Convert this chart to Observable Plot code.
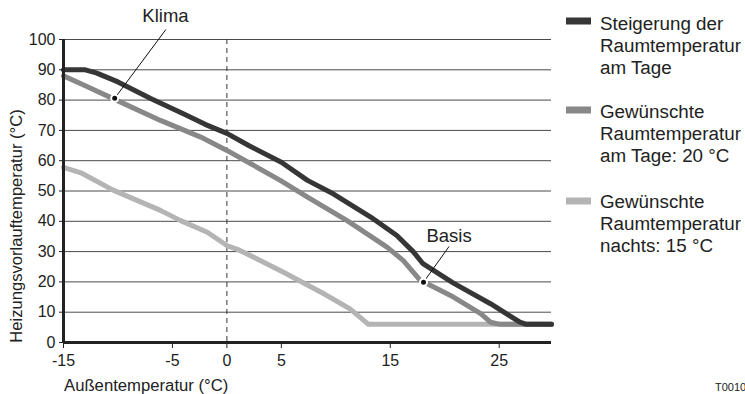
<!DOCTYPE html>
<html><head><meta charset="utf-8">
<script src="https://cdn.jsdelivr.net/npm/d3@7"></script>
<script src="https://cdn.jsdelivr.net/npm/@observablehq/plot@0.6"></script>
<style>
body{margin:0;background:#fff;overflow:hidden}
#chart{position:relative;width:745px;height:394px;overflow:hidden}
</style></head><body><div id="chart"></div>
<script>
// ---- data ----
const legendLines = [
  ["Steigerung der", "Raumtemperatur", "am Tage"],
  ["Gewünschte", "Raumtemperatur", "am Tage: 20 °C"],
  ["Gewünschte", "Raumtemperatur", "nachts: 15 °C"]
];
const seriesColors = ["#363636", "#888888", "#b4b4b4"];

const darkX = [-15, -13, -12, -10, -7, -4, -2, 0, 2, 5, 7.4, 9.8, 13.2, 15.6, 17.1, 18, 20.8, 24.2, 26.9, 27.5, 29.8];
const darkY = [90, 90, 89, 86, 80.5, 75.5, 72, 69, 65, 59.5, 53.5, 49, 41.4, 35.3, 30, 26, 19.6, 12.8, 6.7, 6, 6];

const midX = [-15, -13.4, -10.4, -6.1, -2.4, 0, 2.2, 4.9, 7.4, 11, 14.7, 16.2, 17.75, 18.4, 20.8, 23.3, 24.2, 25.1, 29.8];
const midY = [88, 85.4, 80.4, 73.3, 67.8, 63.4, 59, 53.5, 48, 40.3, 31.5, 27, 20.5, 19.4, 15, 9.5, 6.7, 6, 6];

const lightX = [-15, -13.4, -10.4, -6.1, -4.3, -1.8, 0, 1.2, 3.1, 5.2, 8.9, 11.3, 13, 29.8];
const lightY = [57.8, 56, 50.2, 43.6, 40.3, 36.4, 32, 30.4, 27, 23.2, 16.1, 11.1, 6, 6];

const xTicks = [-15, -5, 0, 5, 15, 25];
const yTicks = [0, 10, 20, 30, 40, 50, 60, 70, 80, 90, 100];

const annotLabels = ["Klima", "Basis"];
const annotPointX = [-10.3, 18.05];
const annotPointY = [80.6, 19.9];
const annotTextX = [-5.64, 20.4];
const annotTextY = [107.6, 35.05];
const annotEndX = [-5.6, 20.4];
const annotEndY = [103.3, 31.7];

const yTitle = "Heizungsvorlauftemperatur (°C)";
const xTitle = "Außentemperatur (°C)";
const codeText = "T001066";

// ---- build ----
const toRows = (xs, ys) => xs.map((x, i) => ({x, y: ys[i]}));
const dark = toRows(darkX, darkY);
const mid = toRows(midX, midY);
const light = toRows(lightX, lightY);
const annots = annotLabels.map((t, i) => ({
  t, px: annotPointX[i], py: annotPointY[i], tx: annotTextX[i], ty: annotTextY[i], ex: annotEndX[i], ey: annotEndY[i]
}));

const font = "'Liberation Sans', Arial, sans-serif";

const plot = Plot.plot({
  width: 745, height: 394,
  marginLeft: 63, marginRight: 194, marginTop: 39, marginBottom: 52,
  x: {domain: [-15, 29.8]},
  y: {domain: [0, 100]},
  style: {fontFamily: font, fontSize: "16px", color: "#222", background: "white", overflow: "visible"},
  marks: [
    Plot.ruleY(yTicks.filter(d => d > 0), {stroke: "#4a4a4a", strokeWidth: 1}),
    Plot.ruleX([0], {stroke: "#333", strokeWidth: 1, strokeDasharray: "5,4"}),
    Plot.line(light, {x: "x", y: "y", stroke: seriesColors[2], strokeWidth: 5, strokeLinejoin: "round"}),
    Plot.line(mid, {x: "x", y: "y", stroke: seriesColors[1], strokeWidth: 5, strokeLinejoin: "round"}),
    Plot.line(dark, {x: "x", y: "y", stroke: seriesColors[0], strokeWidth: 5, strokeLinejoin: "round"}),
    Plot.ruleY([0], {stroke: "#222", strokeWidth: 3}),
    Plot.ruleX([-15], {stroke: "#222", strokeWidth: 3}),
    Plot.axisX({ticks: xTicks, tickSize: 6, tickPadding: 6, tickFormat: d => String(d), label: null, fontSize: 16, stroke: "#222"}),
    Plot.axisY({ticks: yTicks, tickSize: 4, tickPadding: 4, tickFormat: d => String(d), label: null, fontSize: 16, stroke: "#222"}),
    Plot.link(annots, {x1: "px", y1: "py", x2: "ex", y2: "ey", stroke: "#111", strokeWidth: 1}),
    Plot.dot(annots, {x: "px", y: "py", r: 3.5, fill: "#111", stroke: "white", strokeWidth: 2}),
    Plot.text(annots, {x: "tx", y: "ty", text: "t", fontSize: 18.5, fill: "#222"})
  ]
});

document.getElementById("chart").appendChild(plot);

const svg = d3.select(plot);
// axis titles
svg.append("text").attr("transform", "translate(22,226) rotate(-90)")
  .attr("text-anchor", "middle").attr("font-size", 16.6).attr("fill", "#222").attr("font-family", font)
  .text(yTitle);
svg.append("text").attr("x", 64).attr("y", 391).attr("text-anchor", "start")
  .attr("font-size", 16.7).attr("fill", "#222").attr("font-family", font)
  .text(xTitle);
svg.append("text").attr("x", 715).attr("y", 391).attr("text-anchor", "start")
  .attr("font-size", 11).attr("fill", "#222").attr("font-family", font)
  .text(codeText);

// legend
const groupBase = [29.5, 117.5, 207.5];
const swatchY = [21, 110, 201];
legendLines.forEach((lines, i) => {
  svg.append("rect").attr("x", 566).attr("y", swatchY[i] - 3.5).attr("width", 25).attr("height", 7)
    .attr("fill", seriesColors[i]);
  lines.forEach((ln, j) => {
    svg.append("text").attr("x", 600).attr("y", groupBase[i] + j * 22).attr("text-anchor", "start")
      .attr("font-size", 18.8).attr("fill", "#222").attr("font-family", font).text(ln);
  });
});
</script>
</body></html>
